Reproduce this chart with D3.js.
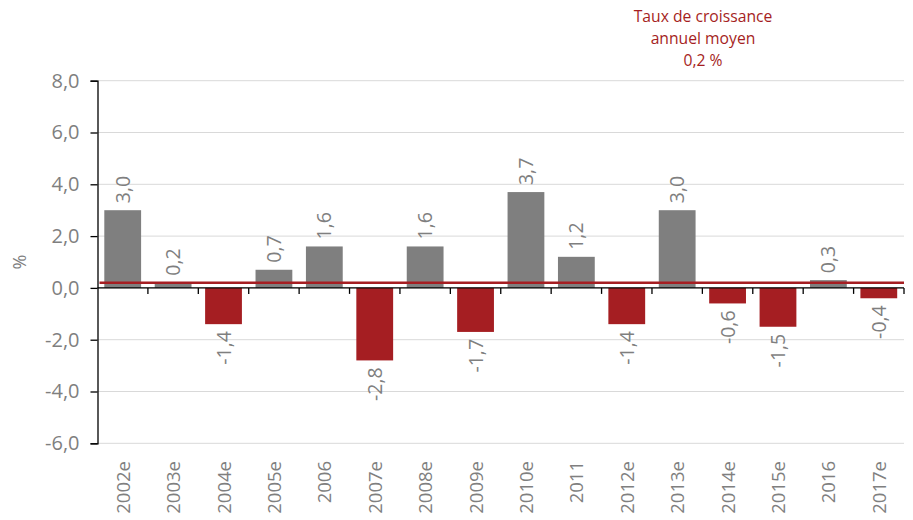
<!DOCTYPE html>
<html>
<head>
<meta charset="utf-8">
<script src="https://cdn.jsdelivr.net/npm/d3@7"></script>
<style>
  body { margin: 0; background: #fff; }
  svg text { font-family: "Open Sans", "Liberation Sans", sans-serif; }
</style>
</head>
<body>
<svg id="chart" width="913" height="520"></svg>
<script>
// Categories (years, "e" = estimate)
const years = ["2002e", "2003e", "2004e", "2005e", "2006", "2007e", "2008e", "2009e",
               "2010e", "2011", "2012e", "2013e", "2014e", "2015e", "2016", "2017e"];
// Annual growth, %
const growth = [3.0, 0.2, -1.4, 0.7, 1.6, -2.8, 1.6, -1.7, 3.7, 1.2, -1.4, 3.0, -0.6, -1.5, 0.3, -0.4];
// Average annual growth rate
const avgGrowth = 0.2;
const yTicks = [-6, -4, -2, 0, 2, 4, 6, 8];
const titleLines = ["Taux de croissance", "annuel moyen", "0,2 %"];

const grey = "#7f7f7f";
const red = "#a51e22";
const fmt = v => d3.format(".1f")(v).replace(".", ",").replace("−", "-");

const svg = d3.select("#chart");

// plot area
const plotLeft = 97.5, plotRight = 904, plotTop = 80.7, plotBottom = 443.3;

let x = d3.scaleBand().domain(years).range([plotLeft, plotRight]).paddingInner(0.27).paddingOuter(0.135);
let y = d3.scaleLinear().domain([-6, 8]).range([plotBottom, plotTop]);

// Gridlines
svg.append("g").selectAll("line")
    .data(yTicks)
    .enter().append("line")
    .attr("x1", plotLeft).attr("x2", plotRight)
    .attr("y1", d => y(d)).attr("y2", d => y(d))
    .attr("stroke", "#d9d9d9").attr("stroke-width", 1);

// Y axis
let yAxis = svg.append("g")
    .attr("transform", `translate(${plotLeft},0)`)
    .call(d3.axisLeft(y).tickValues(yTicks).tickFormat(fmt).tickSize(7).tickPadding(11));
yAxis.select(".domain").attr("stroke", "#000").attr("stroke-width", 1.3);
yAxis.selectAll(".tick line").attr("stroke", "#000").attr("stroke-width", 1.3);
yAxis.selectAll("text").attr("fill", grey).style("font-size", "20px");

// "%" axis title
svg.append("text")
    .attr("transform", "translate(26,262) rotate(-90)")
    .attr("text-anchor", "middle")
    .attr("fill", grey).style("font-size", "18px")
    .text("%");

// Bars
svg.append("g").selectAll("rect")
    .data(growth)
    .enter().append("rect")
    .attr("x", (d, i) => x(years[i]))
    .attr("width", x.bandwidth())
    .attr("y", d => y(Math.max(0, d)))
    .attr("height", d => Math.abs(y(d) - y(0)))
    .attr("fill", d => d < 0 ? red : grey);

// X axis at 0, ticks between categories
let boundaries = d3.range(years.length + 1).map(i => plotLeft + i * x.step());
svg.append("line")
    .attr("x1", plotLeft).attr("x2", plotRight)
    .attr("y1", y(0)).attr("y2", y(0))
    .attr("stroke", "#000").attr("stroke-width", 1.3);
svg.append("g").selectAll("line")
    .data(boundaries.slice(1))
    .enter().append("line")
    .attr("x1", d => d).attr("x2", d => d)
    .attr("y1", y(0)).attr("y2", y(0) + 6)
    .attr("stroke", "#000").attr("stroke-width", 1.3);

// Average growth line
svg.append("line")
    .attr("x1", plotLeft + 2).attr("x2", plotRight)
    .attr("y1", y(avgGrowth)).attr("y2", y(avgGrowth))
    .attr("stroke", red).attr("stroke-width", 2.5);

// Value labels, rotated
svg.append("g").selectAll("text")
    .data(growth)
    .enter().append("text")
    .attr("transform", (d, i) => {
        let cx = x(years[i]) + x.bandwidth() / 2;
        let cy = d < 0 ? y(d) + 7 : y(d) - 7;
        return `translate(${cx + 7},${cy}) rotate(-90)`;
    })
    .attr("text-anchor", d => d < 0 ? "end" : "start")
    .attr("fill", grey).style("font-size", "19.5px")
    .text(fmt);

// Category labels, rotated
svg.append("g").selectAll("text")
    .data(years)
    .enter().append("text")
    .attr("transform", d => `translate(${x(d) + x.bandwidth() / 2 + 7},461) rotate(-90)`)
    .attr("text-anchor", "end")
    .attr("fill", grey).style("font-size", "18.5px")
    .text(d => d);

// Title
svg.append("g").selectAll("text")
    .data(titleLines)
    .enter().append("text")
    .attr("x", 703)
    .attr("y", (d, i) => 22 + i * 22)
    .attr("text-anchor", "middle")
    .attr("fill", red).style("font-size", "15.7px")
    .text(d => d);
</script>
</body>
</html>
